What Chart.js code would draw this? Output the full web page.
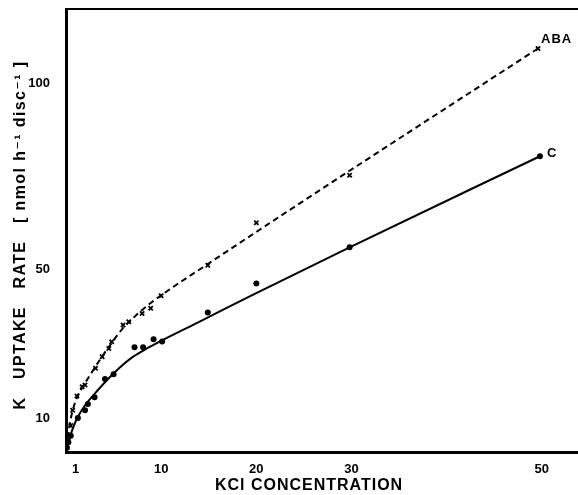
<!DOCTYPE html>
<html>
<head>
<meta charset="utf-8">
<script src="https://cdn.jsdelivr.net/npm/chart.js@4"></script>
<style>
  html, body { margin: 0; padding: 0; background: #fff; }
  #wrap { width: 578px; height: 495px; }
</style>
</head>
<body>
<div id="wrap"><canvas id="uptakeChart" width="578" height="495"></canvas></div>
<script>
/* K uptake rate vs KCl concentration — control (C) and ABA treated discs */

const xTicks = [1, 10, 20, 30, 50];
const yTicks = [10, 50, 100];

// control: measured points
const ctrlX = [0.1, 0.25, 0.5, 1.25, 2, 2.3, 3, 4.1, 5, 7.2, 8.1, 9.2, 10.1, 14.9, 20, 29.8, 49.8];
const ctrlY = [2.0, 3.5, 5.2, 10.0, 12.1, 13.8, 15.6, 20.5, 21.8, 29.0, 29.0, 31.2, 30.6, 38.4, 46.2, 55.9, 80.4];

// control: fitted curve
const ctrlFitX = [0.13, 0.34, 0.66, 1.18, 2.02, 3.07, 4.12, 5.49, 7.06, 8.64, 10.4, 14.1, 19.3, 29.8, 49.8];
const ctrlFitY = [1.7, 4.1, 6.8, 10.0, 13.5, 16.7, 19.7, 23.2, 26.5, 28.9, 31.3, 36.0, 42.7, 55.9, 80.4];

// ABA: measured points
const abaX = [0.25, 0.5, 0.7, 1.15, 1.7, 2, 3.1, 3.8, 4.5, 4.8, 6, 6.6, 8, 8.9, 10, 14.9, 20, 29.8, 49.6];
const abaY = [4.0, 8.0, 12.1, 15.9, 18.4, 18.9, 23.4, 26.5, 28.7, 30.5, 35.0, 35.9, 38.1, 39.5, 42.9, 51.1, 62.5, 75.3, 109.4];

// ABA: fitted curve
const abaFitX = [0.13, 0.34, 0.66, 1.18, 1.81, 2.54, 3.6, 4.64, 5.9, 7.27, 8.64, 10, 14.9, 24.6, 49.6];
const abaFitY = [1.9, 7.3, 11.6, 15.6, 18.6, 21.6, 25.8, 29.6, 33.9, 37.4, 40.4, 43.0, 51.4, 67.8, 109.4];

const xTitle = 'KCl CONCENTRATION';
const yTitle = 'K   UPTAKE   RATE   [ nmol h\u207B\u00B9 disc\u207B\u00B9 ]';

const FONT = "'Liberation Sans', 'DejaVu Sans', sans-serif";

const toXY = (xs, ys) => xs.map((x, i) => ({ x, y: ys[i] }));

/* ── frame top line, axis titles, series labels ── */
const figureTextPlugin = {
  id: 'figureText',
  afterDraw(chart) {
    const { ctx, chartArea } = chart;
    ctx.save();
    ctx.fillStyle = '#000';
    ctx.strokeStyle = '#000';

    // top frame line
    ctx.lineWidth = 2;
    ctx.beginPath();
    ctx.moveTo(chartArea.left - 1, chartArea.top);
    ctx.lineTo(chartArea.right, chartArea.top);
    ctx.stroke();

    // x title
    ctx.font = `bold 16px ${FONT}`;
    ctx.textAlign = 'center';
    ctx.textBaseline = 'middle';
    ctx.letterSpacing = '1px';
    ctx.fillText(xTitle, 309, 486);

    // y title (rotated)
    ctx.save();
    ctx.translate(21, 235);
    ctx.rotate(-Math.PI / 2);
    ctx.font = `bold 16px ${FONT}`;
    ctx.letterSpacing = '1.4px';
    ctx.fillText(yTitle, 0, 0);
    ctx.restore();

    // series labels next to the last point of each series
    ctx.font = `bold 13px ${FONT}`;
    ctx.textAlign = 'left';
    ctx.letterSpacing = '1px';
    const labelAt = (dsIndex, text, dx, dy) => {
      const pts = chart.getDatasetMeta(dsIndex).data;
      const last = pts[pts.length - 1];
      ctx.fillText(text, last.x + dx, last.y + dy);
    };
    labelAt(2, 'ABA', 3, -9);
    labelAt(3, 'C', 7, -3);

    ctx.restore();
  },
};

new Chart(document.getElementById('uptakeChart'), {
  type: 'scatter',
  data: {
    datasets: [
      {
        label: 'ABA fit',
        data: toXY(abaFitX, abaFitY),
        showLine: true,
        borderColor: '#000',
        borderWidth: 2,
        borderDash: [6, 4],
        pointRadius: 0,
        cubicInterpolationMode: 'monotone',
      },
      {
        label: 'C fit',
        data: toXY(ctrlFitX, ctrlFitY),
        showLine: true,
        borderColor: '#000',
        borderWidth: 2,
        pointRadius: 0,
        cubicInterpolationMode: 'monotone',
      },
      {
        label: 'ABA',
        data: toXY(abaX, abaY),
        pointStyle: 'crossRot',
        pointRadius: 3,
        borderColor: '#000',
        borderWidth: 1.8,
      },
      {
        label: 'C',
        data: toXY(ctrlX, ctrlY),
        pointStyle: 'circle',
        pointRadius: 3,
        backgroundColor: '#000',
        borderColor: '#000',
        borderWidth: 0,
      },
    ],
  },
  options: {
    responsive: false,
    animation: false,
    layout: { autoPadding: false, padding: { top: 9, right: 0, bottom: 0, left: 0 } },
    plugins: {
      legend: { display: false },
      tooltip: { enabled: false },
    },
    scales: {
      x: {
        type: 'linear',
        min: 0,
        max: 53.8,
        grid: { display: false },
        border: { display: true, color: '#000', width: 3 },
        ticks: {
          color: '#000',
          padding: 2,
          font: { family: FONT, size: 13, weight: 'bold' },
        },
        afterBuildTicks(scale) {
          scale.ticks = xTicks.map((v) => ({ value: v }));
        },
        afterFit(scale) {
          scale.height = 43;
          scale.paddingLeft = 0;
          scale.paddingRight = 0;
        },
      },
      y: {
        type: 'linear',
        min: 0.86,
        max: 120,
        grid: { display: false },
        border: { display: true, color: '#000', width: 3 },
        ticks: {
          color: '#000',
          padding: 8,
          font: { family: FONT, size: 13, weight: 'bold' },
        },
        afterBuildTicks(scale) {
          scale.ticks = yTicks.map((v) => ({ value: v }));
        },
        afterFit(scale) {
          scale.width = 66;
          scale.paddingTop = 0;
          scale.paddingBottom = 0;
        },
      },
    },
  },
  plugins: [figureTextPlugin],
});
</script>
</body>
</html>
